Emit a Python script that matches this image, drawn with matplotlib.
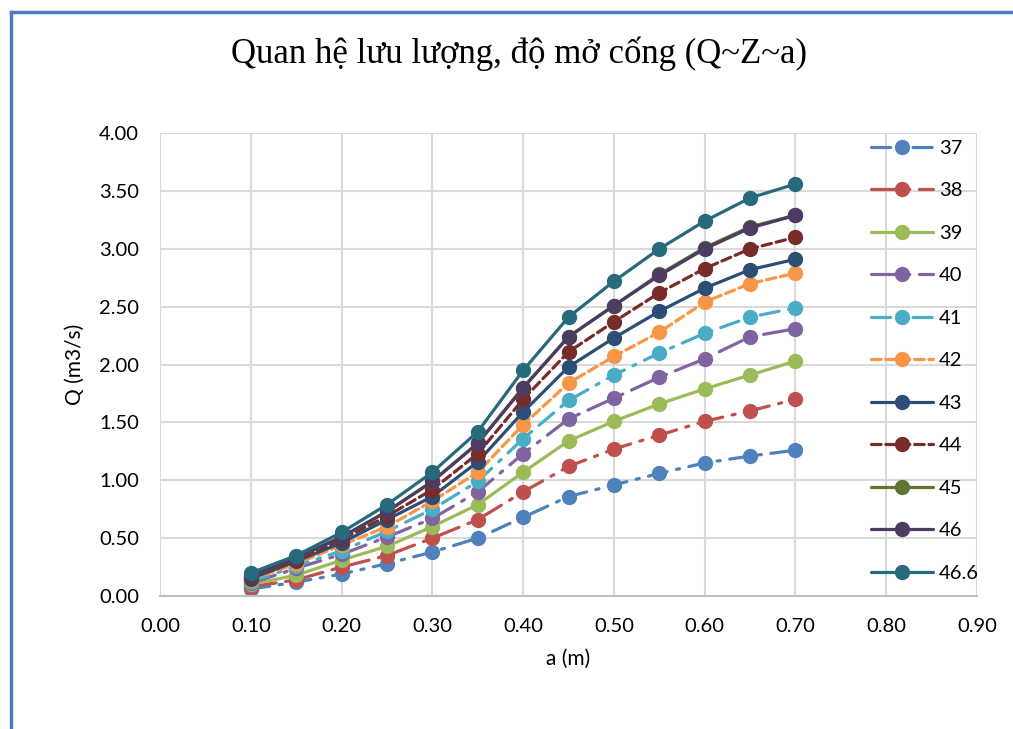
import numpy as np
import matplotlib
matplotlib.use("Agg")
import matplotlib.pyplot as plt
from matplotlib.lines import Line2D

# opening a (m)
a = [0.10, 0.15, 0.20, 0.25, 0.30, 0.35, 0.40, 0.45, 0.50, 0.55, 0.60, 0.65, 0.70]

# discharge Q (m3/s) for each upstream level Z
q37 = [0.06, 0.12, 0.19, 0.28, 0.38, 0.50, 0.68, 0.86, 0.96, 1.06, 1.15, 1.21, 1.26]
q38 = [0.08, 0.14, 0.25, 0.35, 0.50, 0.66, 0.90, 1.12, 1.27, 1.39, 1.51, 1.60, 1.70]
q39 = [0.10, 0.18, 0.31, 0.43, 0.60, 0.79, 1.07, 1.34, 1.51, 1.66, 1.79, 1.91, 2.03]
q40 = [0.11, 0.24, 0.36, 0.51, 0.67, 0.90, 1.23, 1.53, 1.71, 1.89, 2.05, 2.24, 2.31]
q41 = [0.12, 0.26, 0.39, 0.56, 0.75, 0.99, 1.36, 1.69, 1.91, 2.10, 2.27, 2.41, 2.49]
q42 = [0.14, 0.28, 0.44, 0.60, 0.82, 1.07, 1.48, 1.84, 2.07, 2.28, 2.54, 2.70, 2.79]
q43 = [0.15, 0.30, 0.46, 0.66, 0.86, 1.16, 1.59, 1.98, 2.23, 2.46, 2.66, 2.82, 2.91]
q44 = [0.16, 0.31, 0.49, 0.69, 0.92, 1.23, 1.70, 2.11, 2.37, 2.62, 2.83, 3.00, 3.10]
q45 = [0.17, 0.33, 0.51, 0.73, 0.99, 1.32, 1.80, 2.24, 2.51, 2.78, 3.01, 3.19, 3.29]
q46 = [0.17, 0.33, 0.51, 0.73, 0.99, 1.32, 1.80, 2.24, 2.51, 2.77, 3.00, 3.18, 3.29]
q466 = [0.20, 0.35, 0.55, 0.79, 1.07, 1.42, 1.95, 2.41, 2.72, 3.00, 3.24, 3.44, 3.56]

labels = ["37", "38", "39", "40", "41", "42", "43", "44", "45", "46", "46.6"]
series = [q37, q38, q39, q40, q41, q42, q43, q44, q45, q46, q466]
colors = ["#4F81BD", "#C0504D", "#9BBB59", "#8064A2", "#4BACC6", "#F79646",
          "#2C4D75", "#772C2A", "#5F7530", "#4D3B62", "#276A7C"]

dashdot = (0, (6, 3, 1, 3))
longdashdot = (0, (8, 3, 1, 3))
dash = (0, (3, 1.5))
styles = [dashdot, longdashdot, "-", longdashdot, dashdot, dash,
          "-", dash, "-", "-", "-"]

plt.rcParams['font.family'] = ['Lato', 'DejaVu Sans']

fig = plt.figure(figsize=(10.13, 7.29), dpi=100)
ax = fig.add_axes([0.158, 0.1824, 0.8065, 0.635])

for q, lab, c, ls in zip(series, labels, colors, styles):
    ax.plot(a, q, color=c, linestyle=ls, linewidth=2.3, marker="o",
            markersize=10, label=lab, solid_capstyle="round",
            dash_capstyle="round")

ax.set_xlim(0, 0.9)
ax.set_ylim(0, 4.0)
ax.set_xticks(np.arange(0, 0.91, 0.1))
ax.set_yticks(np.arange(0, 4.01, 0.5))
ax.xaxis.set_major_formatter(matplotlib.ticker.FormatStrFormatter("%.2f"))
ax.yaxis.set_major_formatter(matplotlib.ticker.FormatStrFormatter("%.2f"))
ax.tick_params(length=0, labelsize=14.5)
ax.tick_params(axis="x", pad=16)
ax.tick_params(axis="y", pad=15)
ax.grid(True, color="#D9D9D9", linewidth=1.5)
ax.set_axisbelow(True)
for s in ["top", "right", "left"]:
    ax.spines[s].set_visible(False)
ax.spines["bottom"].set_color("#BFBFBF")
ax.spines["bottom"].set_linewidth(1.5)

ax.set_xlabel("a (m)", fontsize=15, labelpad=10)
ax.set_ylabel("Q (m3/s)", fontsize=15, labelpad=10)

leg = ax.legend(loc="upper left", bbox_to_anchor=(0.86, 1.003), frameon=False,
                fontsize=14.5, handlelength=3.1, labelspacing=1.26,
                handletextpad=0.3, borderaxespad=0.0)

fig.text(0.512, 0.926, "Quan hệ lưu lượng, độ mở cống (Q~Z~a)",
         family="Liberation Serif", fontsize=25, ha="center", va="center")

# chart frame edge (blue, left and top)
fig.add_artist(Line2D([0.0105, 0.0105], [0.0, 0.984], color="#4A7EBB",
                      linewidth=2.5, transform=fig.transFigure))
fig.add_artist(Line2D([0.0105, 1.0], [0.984, 0.984], color="#4A7EBB",
                      linewidth=2.5, transform=fig.transFigure))

fig.savefig("out.png", dpi=100)
